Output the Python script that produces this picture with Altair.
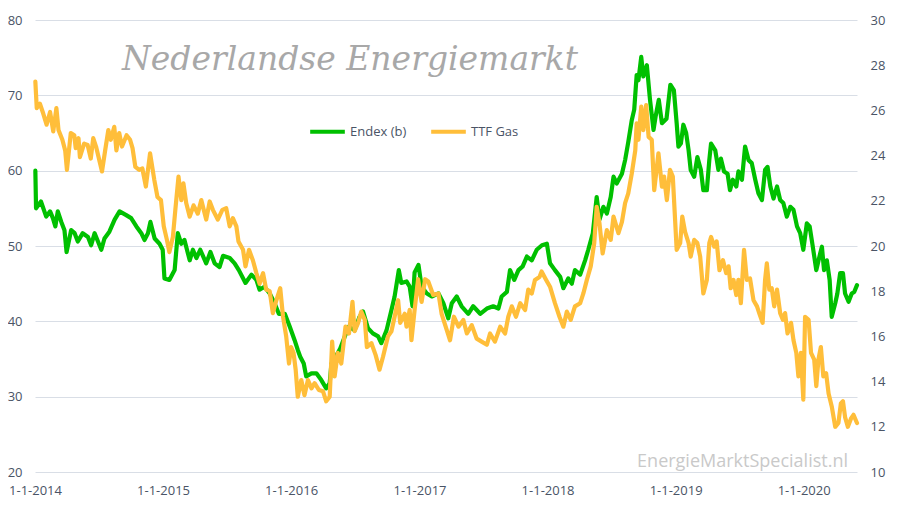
import altair as alt
import pandas as pd

# Endex (power, left axis)
endex_dates = [
    "2014-01-02","2014-01-04","2014-01-18","2014-02-02","2014-02-13","2014-02-21","2014-02-28","2014-03-07",
    "2014-03-17","2014-03-26","2014-04-01","2014-04-14","2014-04-24","2014-05-03","2014-05-17","2014-06-01",
    "2014-06-10","2014-06-20","2014-07-09","2014-07-18","2014-08-01","2014-08-16","2014-08-30","2014-09-18",
    "2014-10-02","2014-10-17","2014-10-31","2014-11-09","2014-11-19","2014-11-26","2014-12-08","2014-12-22",
    "2014-12-31","2015-01-05","2015-01-19","2015-02-03","2015-02-12","2015-02-22","2015-03-03","2015-03-18",
    "2015-03-27","2015-04-06","2015-04-17","2015-05-04","2015-05-16","2015-05-28","2015-06-11","2015-06-21",
    "2015-07-10","2015-07-24","2015-08-05","2015-08-24","2015-09-10","2015-09-24","2015-10-03","2015-10-17",
    "2015-11-01","2015-11-15","2015-11-27","2015-12-14","2015-12-28","2016-01-11","2016-01-20","2016-01-27",
    "2016-02-06","2016-02-13","2016-02-28","2016-03-13","2016-03-27","2016-04-10","2016-04-20","2016-04-25",
    "2016-05-07","2016-05-20","2016-06-02","2016-06-14","2016-06-30","2016-07-14","2016-07-24","2016-08-07",
    "2016-08-21","2016-09-05","2016-09-14","2016-09-29","2016-10-13","2016-10-22","2016-11-03","2016-11-10",
    "2016-11-25","2016-12-04","2016-12-12","2016-12-18","2016-12-29","2017-01-07","2017-01-22","2017-02-05",
    "2017-02-24","2017-03-10","2017-03-24","2017-04-03","2017-04-17","2017-05-01","2017-05-20","2017-06-03",
    "2017-06-23","2017-07-12","2017-07-30","2017-08-14","2017-08-23","2017-09-07","2017-09-16","2017-09-28",
    "2017-10-10","2017-10-22","2017-11-03","2017-11-17","2017-12-01","2017-12-16","2017-12-30","2018-01-08",
    "2018-01-22","2018-02-06","2018-02-15","2018-03-01","2018-03-11","2018-03-20","2018-04-04","2018-04-18",
    "2018-04-27","2018-05-10","2018-05-21","2018-05-29","2018-06-09","2018-06-19","2018-06-30","2018-07-08",
    "2018-07-17","2018-08-01","2018-08-10","2018-08-19","2018-08-29","2018-09-05","2018-09-12","2018-09-17",
    "2018-09-25","2018-10-01","2018-10-11","2018-10-20","2018-10-30","2018-11-05","2018-11-14","2018-11-23",
    "2018-12-06","2018-12-17","2018-12-27","2019-01-04","2019-01-09","2019-01-16","2019-01-23","2019-01-31",
    "2019-02-07","2019-02-13","2019-02-23","2019-03-04","2019-03-14","2019-03-21","2019-03-31","2019-04-07",
    "2019-04-12","2019-04-24","2019-05-03","2019-05-10","2019-05-19","2019-05-29","2019-06-05","2019-06-13",
    "2019-06-23","2019-06-29","2019-07-09","2019-07-18","2019-07-28","2019-08-06","2019-08-16","2019-08-25",
    "2019-09-04","2019-09-13","2019-09-20","2019-09-28","2019-10-07","2019-10-17","2019-10-26","2019-11-04",
    "2019-11-14","2019-11-24","2019-12-03","2019-12-13","2019-12-22","2019-12-31","2020-01-10","2020-01-18",
    "2020-01-27","2020-02-06","2020-02-17","2020-02-22","2020-02-28","2020-03-07","2020-03-15","2020-03-21",
    "2020-03-31","2020-04-06","2020-04-14","2020-04-22","2020-04-28","2020-05-08","2020-05-17","2020-05-24",
    "2020-06-01",
]
endex_values = [
    60.0, 55.0, 55.9, 53.9, 54.6, 53.7, 52.6, 54.6,
    53.2, 52.1, 49.2, 52.1, 51.7, 50.6, 51.7, 51.2,
    50.1, 51.7, 49.5, 51.0, 51.9, 53.5, 54.6, 54.1,
    53.7, 52.6, 51.7, 50.8, 51.7, 53.2, 51.0, 50.3,
    49.5, 45.7, 45.5, 46.8, 51.7, 50.3, 50.8, 48.1,
    49.5, 48.4, 49.5, 47.7, 49.2, 47.7, 47.2, 48.7,
    48.4, 47.7, 46.8, 45.1, 46.2, 45.5, 44.2, 44.6,
    43.7, 42.4, 41.0, 41.0, 39.3, 37.5, 36.2, 35.3,
    34.4, 32.7, 33.1, 33.1, 32.2, 31.1, 31.8, 34.4,
    35.3, 36.4, 38.0, 39.3, 38.8, 40.6, 41.3, 39.1,
    38.4, 38.0, 37.1, 38.8, 41.5, 43.3, 46.8, 45.1,
    45.3, 44.6, 42.0, 46.5, 47.5, 44.6, 43.7, 43.3,
    43.7, 42.4, 40.4, 42.4, 43.3, 42.0, 41.0, 42.0,
    41.0, 41.7, 42.0, 41.7, 43.3, 43.9, 46.8, 45.5,
    46.8, 47.3, 48.6, 48.1, 49.5, 50.1, 50.3, 47.7,
    46.8, 45.9, 44.4, 45.7, 45.0, 46.8, 46.2, 48.1,
    49.5, 51.7, 56.5, 53.5, 55.2, 54.3, 56.5, 59.2,
    58.3, 59.6, 61.4, 63.8, 66.7, 68.1, 72.7, 72.0,
    75.1, 72.5, 74.0, 69.4, 65.4, 67.2, 69.4, 66.3,
    66.9, 71.4, 70.7, 66.3, 63.2, 63.6, 66.1, 65.0,
    62.7, 60.1, 59.2, 61.8, 60.1, 57.4, 57.4, 61.4,
    63.6, 62.7, 60.1, 61.6, 59.9, 59.6, 57.4, 58.8,
    57.9, 59.9, 58.8, 63.2, 61.4, 61.0, 58.8, 57.0,
    56.1, 60.1, 60.5, 57.9, 56.3, 57.9, 56.1, 55.7,
    53.9, 55.2, 54.8, 52.6, 51.7, 49.5, 53.0, 52.6,
    49.9, 46.8, 49.0, 49.9, 46.8, 48.1, 45.5, 40.6,
    42.4, 43.7, 46.4, 46.4, 43.7, 42.6, 43.7, 43.9,
    44.8,
]

# TTF Gas (right axis)
ttf_dates = [
    "2014-01-02","2014-01-06","2014-01-15","2014-01-23","2014-02-03","2014-02-13","2014-02-22","2014-03-03",
    "2014-03-09","2014-03-20","2014-03-28","2014-04-02","2014-04-13","2014-04-23","2014-04-27","2014-05-05",
    "2014-05-09","2014-05-21","2014-05-31","2014-06-09","2014-06-16","2014-06-24","2014-07-11","2014-07-20",
    "2014-07-29","2014-08-05","2014-08-15","2014-08-21","2014-08-29","2014-09-06","2014-09-19","2014-09-29",
    "2014-10-06","2014-10-14","2014-10-25","2014-11-03","2014-11-13","2014-11-25","2014-12-07","2014-12-16",
    "2014-12-26","2015-01-03","2015-01-12","2015-01-19","2015-01-29","2015-02-05","2015-02-14","2015-02-22",
    "2015-02-28","2015-03-08","2015-03-18","2015-03-29","2015-04-10","2015-04-20","2015-05-04","2015-05-14",
    "2015-05-23","2015-06-06","2015-06-19","2015-06-30","2015-07-10","2015-07-19","2015-07-29","2015-08-04",
    "2015-08-17","2015-08-24","2015-09-03","2015-09-14","2015-09-24","2015-10-03","2015-10-13","2015-10-22",
    "2015-11-01","2015-11-10","2015-11-20","2015-12-01","2015-12-09","2015-12-18","2015-12-26","2016-01-01",
    "2016-01-08","2016-01-14","2016-01-20","2016-01-30","2016-02-08","2016-02-18","2016-02-28","2016-03-08",
    "2016-03-20","2016-04-01","2016-04-10","2016-04-20","2016-04-27","2016-05-04","2016-05-13","2016-05-23",
    "2016-06-04","2016-06-14","2016-06-24","2016-06-30","2016-07-10","2016-07-19","2016-07-29","2016-08-04",
    "2016-08-17","2016-08-29","2016-09-09","2016-09-19","2016-10-03","2016-10-13","2016-10-22","2016-11-01",
    "2016-11-07","2016-11-20","2016-11-25","2016-12-04","2016-12-09","2016-12-18","2016-12-28","2017-01-07",
    "2017-01-17","2017-01-26","2017-02-09","2017-02-24","2017-03-05","2017-03-20","2017-03-29","2017-04-09",
    "2017-04-22","2017-05-06","2017-05-16","2017-05-30","2017-06-13","2017-06-27","2017-07-12","2017-07-21",
    "2017-08-04","2017-08-19","2017-09-02","2017-09-11","2017-09-21","2017-10-03","2017-10-15","2017-10-29",
    "2017-11-07","2017-11-17","2017-11-26","2017-12-09","2017-12-15","2017-12-28","2018-01-08","2018-01-22",
    "2018-02-04","2018-02-15","2018-02-25","2018-03-08","2018-03-20","2018-04-04","2018-04-13","2018-04-23",
    "2018-05-04","2018-05-14","2018-05-21","2018-05-29","2018-06-07","2018-06-19","2018-06-30","2018-07-08",
    "2018-07-22","2018-08-01","2018-08-10","2018-08-19","2018-08-29","2018-09-08","2018-09-12","2018-09-17",
    "2018-09-25","2018-10-01","2018-10-09","2018-10-16","2018-10-25","2018-11-01","2018-11-13","2018-11-23",
    "2018-11-29","2018-12-07","2018-12-16","2018-12-24","2019-01-04","2019-01-14","2019-01-20","2019-01-28",
    "2019-02-07","2019-02-13","2019-02-23","2019-03-04","2019-03-12","2019-03-21","2019-03-31","2019-04-07",
    "2019-04-12","2019-04-21","2019-04-28","2019-05-06","2019-05-16","2019-05-25","2019-06-01","2019-06-07",
    "2019-06-15","2019-06-23","2019-06-29","2019-07-06","2019-07-15","2019-07-23","2019-08-01","2019-08-11",
    "2019-08-21","2019-08-28","2019-09-06","2019-09-13","2019-09-18","2019-09-25","2019-10-02","2019-10-09",
    "2019-10-17","2019-10-26","2019-11-03","2019-11-09","2019-11-16","2019-11-26","2019-12-03","2019-12-11",
    "2019-12-17","2019-12-24","2019-12-31","2020-01-05","2020-01-15","2020-01-22","2020-01-31","2020-02-06",
    "2020-02-12","2020-02-19","2020-02-26","2020-03-05","2020-03-12","2020-03-21","2020-03-31","2020-04-09",
    "2020-04-16","2020-04-22","2020-04-28","2020-05-06","2020-05-15","2020-05-22","2020-06-01",
]
ttf_values = [
    27.27, 26.10, 26.30, 25.93, 25.37, 25.93, 25.07, 26.10,
    25.13, 24.70, 24.23, 23.37, 25.00, 24.90, 24.33, 24.77,
    23.93, 24.53, 24.47, 23.87, 24.77, 24.40, 23.30, 24.23,
    25.13, 24.70, 25.27, 24.23, 25.00, 24.40, 24.90, 24.70,
    24.33, 23.50, 23.37, 23.43, 22.63, 24.10, 22.93, 22.17,
    22.03, 20.87, 20.27, 19.73, 20.40, 21.60, 23.07, 22.03,
    22.77, 21.90, 21.30, 21.80, 21.43, 22.03, 21.17, 21.97,
    21.60, 21.17, 21.60, 21.67, 20.87, 21.23, 20.87, 20.20,
    19.83, 19.10, 19.83, 19.37, 18.80, 18.33, 18.80, 18.07,
    18.00, 17.03, 17.60, 18.13, 16.87, 16.00, 14.80, 15.53,
    15.27, 14.53, 13.33, 14.07, 13.40, 14.07, 13.70, 13.93,
    13.63, 13.57, 13.13, 13.33, 15.77, 14.23, 15.27, 14.80,
    16.43, 16.13, 17.53, 16.23, 16.60, 17.10, 16.73, 15.53,
    15.70, 15.17, 14.53, 15.10, 16.00, 16.23, 16.87, 17.60,
    16.60, 17.00, 16.43, 17.17, 15.83, 17.17, 18.53, 17.53,
    18.53, 18.43, 17.83, 17.90, 17.00, 16.27, 15.83, 16.87,
    16.43, 16.73, 16.13, 16.50, 15.90, 15.77, 15.63, 16.13,
    15.77, 16.43, 16.13, 16.87, 17.33, 16.87, 17.47, 17.17,
    18.07, 17.90, 18.50, 18.63, 18.87, 18.50, 18.20, 17.47,
    16.87, 16.43, 17.10, 16.73, 17.33, 17.47, 17.90, 18.50,
    19.10, 20.13, 21.73, 21.00, 19.67, 20.70, 20.27, 21.30,
    20.57, 21.07, 21.90, 22.33, 23.20, 24.23, 25.43, 24.70,
    26.17, 25.13, 26.23, 24.83, 24.70, 22.47, 24.10, 22.63,
    23.07, 22.03, 23.37, 23.07, 19.83, 20.13, 21.30, 20.63,
    20.13, 19.53, 20.27, 20.13, 19.53, 17.90, 18.50, 20.13,
    20.40, 19.97, 20.20, 18.93, 19.37, 18.80, 19.10, 18.13,
    18.50, 17.83, 18.50, 17.47, 19.83, 18.50, 18.57, 17.60,
    17.33, 17.00, 16.60, 18.50, 19.23, 18.07, 18.13, 17.33,
    18.07, 17.03, 16.73, 17.03, 16.13, 16.60, 15.83, 15.27,
    14.23, 15.27, 13.20, 16.87, 16.73, 15.27, 14.97, 13.80,
    14.97, 15.53, 14.23, 14.37, 13.47, 12.90, 12.00, 12.17,
    13.03, 13.13, 12.43, 12.00, 12.37, 12.53, 12.17,
]

series_names = ["Endex (b)", "TTF Gas"]
series_colors = ["#00C000", "#FFBE3A"]
left_ticks = [20, 30, 40, 50, 60, 70, 80]
right_ticks = [10, 12, 14, 16, 18, 20, 22, 24, 26, 28, 30]
year_ticks = [2014, 2015, 2016, 2017, 2018, 2019, 2020]
title_text = "Nederlandse Energiemarkt"
watermark_text = "EnergieMarktSpecialist.nl"

endex_df = pd.DataFrame({"date": endex_dates, "value": endex_values, "series": series_names[0]})
ttf_df = pd.DataFrame({"date": ttf_dates, "value": ttf_values, "series": series_names[1]})

label_color = "#4A5466"
font = "Open Sans"

x_enc = alt.X(
    "date:T",
    scale=alt.Scale(
        domain=[alt.DateTime(year=2014, month=1, date=1), alt.DateTime(year=2020, month=6, date=1)],
        nice=False,
    ),
    axis=alt.Axis(
        values=[alt.DateTime(year=y, month=1, date=1) for y in year_ticks],
        format="%-d-%-m-%Y",
        title=None, grid=False, domain=False, ticks=False,
        labelPadding=12, labelFontSize=13, labelColor=label_color, labelFont=font,
        labelOverlap=False, labelFlush=False,
    ),
)

color_enc = alt.Color(
    "series:N",
    scale=alt.Scale(domain=series_names, range=series_colors),
    legend=alt.Legend(
        title=None, orient="none", direction="horizontal",
        legendX=273, legendY=92,
        symbolType="stroke", symbolStrokeWidth=4, symbolSize=1200,
        labelFontSize=13, labelColor=label_color, labelFont=font,
        labelOffset=3, columnPadding=16,
    ),
)

endex = alt.Chart(endex_df).mark_line(strokeWidth=4.2, strokeJoin="round", strokeCap="round").encode(
    x=x_enc,
    y=alt.Y(
        "value:Q",
        scale=alt.Scale(domain=[20, 80], nice=False, zero=False),
        axis=alt.Axis(
            values=left_ticks, title=None, grid=True, gridColor="#D9DEE6", gridWidth=1,
            domain=False, ticks=False, labelPadding=13, labelFontSize=13,
            labelColor=label_color, labelFont=font,
        ),
    ),
    color=color_enc,
)

ttf = alt.Chart(ttf_df).mark_line(strokeWidth=4.2, strokeJoin="round", strokeCap="round").encode(
    x=x_enc,
    y=alt.Y(
        "value:Q",
        scale=alt.Scale(domain=[10, 30], nice=False, zero=False),
        axis=alt.Axis(
            orient="right", values=right_ticks, title=None, grid=False,
            domain=False, ticks=False, labelPadding=13, labelFontSize=13,
            labelColor=label_color, labelFont=font,
        ),
    ),
    color=color_enc,
)

title = alt.Chart(pd.DataFrame({"t": [title_text]})).mark_text(
    font="DejaVu Serif", fontStyle="italic", fontSize=33, color="#A8A8A8",
    align="center", baseline="alphabetic",
).encode(text="t:N", x=alt.value(315), y=alt.value(50))

watermark = alt.Chart(pd.DataFrame({"t": [watermark_text]})).mark_text(
    font=font, fontSize=18, color="#C9C9C9", align="right", baseline="alphabetic",
).encode(text="t:N", x=alt.value(813), y=alt.value(447))

chart = alt.layer(endex, ttf, title, watermark).resolve_scale(y="independent").properties(
    width=822, height=452,
    padding={"left": 27, "top": 12, "right": 34, "bottom": 31},
    autosize=alt.AutoSizeParams(type="none"),
    background="white",
).configure_view(stroke=None)

chart.save("out.html", embed_options={"renderer": "svg", "actions": False})
